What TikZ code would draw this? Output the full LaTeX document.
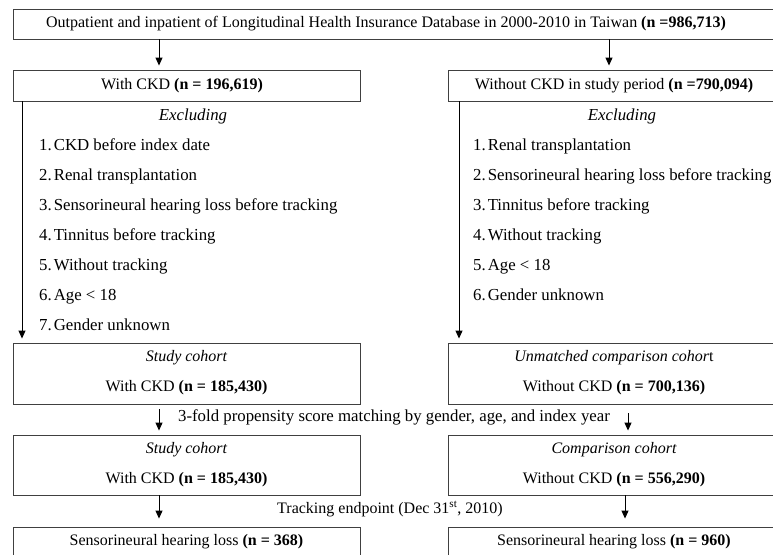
\documentclass[tikz,border=0pt]{standalone}
\usepackage{fontspec}
\setmainfont{Liberation Serif}
\usetikzlibrary{arrows.meta}
\tikzset{
  box/.style={draw=black!75, line width=0.9pt, rectangle, inner sep=0pt},
  txt/.style={inner sep=0pt, anchor=center, text height=11pt, text depth=3.5pt, font=\fontsize{16}{19}\selectfont},
  bigtxt/.style={txt, font=\fontsize{16.8}{20}\selectfont},
  item/.style={inner sep=0pt, anchor=west, text height=11pt, text depth=3.5pt, font=\fontsize{16.8}{20}\selectfont},
  arr/.style={draw=black, line width=1pt, -{Triangle[length=8pt,width=7pt]}},
}
\begin{document}
\begin{tikzpicture}[x=1pt,y=-1pt]
\useasboundingbox (0,0) rectangle (773,554);
\clip (0,0) rectangle (773,554);
% boxes
\node[box, minimum width=767pt, minimum height=30pt] (top) at (396.5,24) {};
\node[txt] (toptext) at (386,24) {Outpatient and inpatient of Longitudinal Health Insurance Database in 2000-2010 in Taiwan \textbf{(n =986,713)}};
\node[box, minimum width=347pt, minimum height=31pt] (ckd) at (186.5,85.5) {};
\node[txt] (ckdt) at (182,86) {With CKD \textbf{(n = 196,619)}};
\node[box, minimum width=332pt, minimum height=31pt] (nockd) at (614,85.5) {};
\node[txt] (nockdt) at (614,86) {Without CKD in study period \textbf{(n =790,094)}};
% excluding lists
\node[bigtxt] (exl) at (193,117) {\itshape Excluding};
\node[item] (l1) at (39,147) {1.\hspace{2pt}CKD before index date};
\node[item] (l2) at (39,177) {2.\hspace{2pt}Renal transplantation};
\node[item] (l3) at (39,207) {3.\hspace{2pt}Sensorineural hearing loss before tracking};
\node[item] (l4) at (39,237) {4.\hspace{2pt}Tinnitus before tracking};
\node[item] (l5) at (39,267) {5.\hspace{2pt}Without tracking};
\node[item] (l6) at (39,297) {6.\hspace{2pt}Age < 18};
\node[item] (l7) at (39,327) {7.\hspace{2pt}Gender unknown};
\node[bigtxt] (exr) at (622,117) {\itshape Excluding};
\node[item] (r1) at (473,147) {1.\hspace{2pt}Renal transplantation};
\node[item] (r2) at (473,177) {2.\hspace{2pt}Sensorineural hearing loss before tracking};
\node[item] (r3) at (473,207) {3.\hspace{2pt}Tinnitus before tracking};
\node[item] (r4) at (473,237) {4.\hspace{2pt}Without tracking};
\node[item] (r5) at (473,267) {5.\hspace{2pt}Age < 18};
\node[item] (r6) at (473,297) {6.\hspace{2pt}Gender unknown};
% cohort boxes
\node[box, minimum width=347pt, minimum height=61pt] (sc1) at (186.5,373.5) {};
\node[txt] (sc1a) at (186.5,358) {\itshape Study cohort};
\node[txt] (sc1b) at (186.5,388) {With CKD \textbf{(n = 185,430)}};
\node[box, minimum width=332pt, minimum height=61pt] (uc) at (614,373.5) {};
\node[txt] (uca) at (614,358) {\textit{Unmatched comparison cohor}t};
\node[txt] (ucb) at (614,388) {Without CKD \textbf{(n = 700,136)}};
\node[bigtxt] (match) at (394,418) {3-fold propensity score matching by gender, age, and index year};
\node[box, minimum width=347pt, minimum height=60pt] (sc2) at (186.5,465) {};
\node[txt] (sc2a) at (186.5,450) {\itshape Study cohort};
\node[txt] (sc2b) at (186.5,480) {With CKD \textbf{(n = 185,430)}};
\node[box, minimum width=332pt, minimum height=60pt] (cc) at (614,465) {};
\node[txt] (cca) at (614,450) {\itshape Comparison cohort};
\node[txt] (ccb) at (614,480) {Without CKD \textbf{(n = 556,290)}};
\node[txt] (track) at (390,510) {Tracking endpoint (Dec 31\textsuperscript{st}, 2010)};
\node[box, minimum width=347pt, minimum height=40pt] (sh1) at (186.5,547) {};
\node[txt] (sh1t) at (186.5,542) {Sensorineural hearing loss \textbf{(n = 368)}};
\node[box, minimum width=332pt, minimum height=40pt] (sh2) at (614,547) {};
\node[txt] (sh2t) at (614,542) {Sensorineural hearing loss \textbf{(n = 960)}};
% arrow columns
\coordinate (cA) at (159,0);
\coordinate (cB) at (609,0);
\coordinate (cL) at (22,0);
\coordinate (cR) at (459,0);
\coordinate (cM) at (628,0);
\coordinate (cT) at (625,0);
\draw[arr, shorten >=4pt] (top.south -| cA) -- (ckd.north -| cA);
\draw[arr, shorten >=4pt] (top.south -| cB) -- (nockd.north -| cB);
\draw[arr, shorten >=4pt] (ckd.south -| cL) -- (sc1.north -| cL);
\draw[arr, shorten >=4pt] (nockd.south -| cR) -- (uc.north -| cR);
\draw[arr, shorten <=5pt, shorten >=4pt] (sc1.south -| cA) -- (sc2.north -| cA);
\draw[arr, shorten <=9pt, shorten >=4pt] (uc.south -| cM) -- (cc.north -| cM);
\draw[arr, shorten >=8pt] (sc2.south -| cA) -- (sh1.north -| cA);
\draw[arr, shorten >=8pt] (cc.south -| cT) -- (sh2.north -| cT);
\end{tikzpicture}
\end{document}
